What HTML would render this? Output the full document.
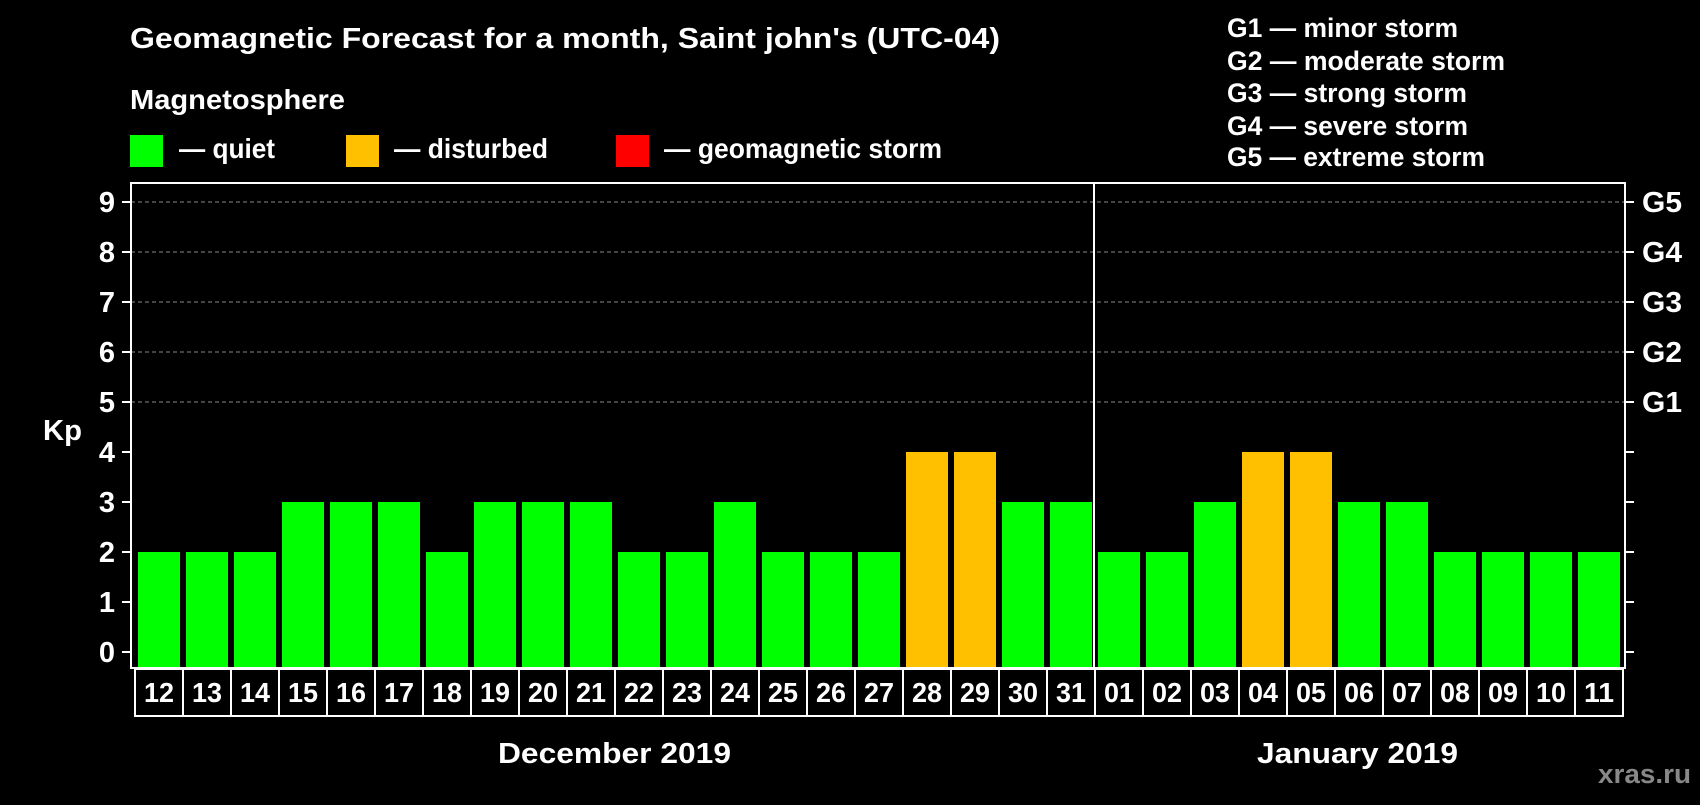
<!DOCTYPE html>
<html><head><meta charset="utf-8"><style>
body{margin:0;background:#000;width:1700px;height:800px;overflow:hidden}
svg text{font-family:"Liberation Sans",sans-serif;font-weight:bold;fill:#fff}
</style></head><body>
<svg id="chart" width="1700" height="800" xmlns="http://www.w3.org/2000/svg">
<text x="130" y="48" font-size="29" textLength="870" lengthAdjust="spacingAndGlyphs">Geomagnetic Forecast for a month, Saint john's (UTC-04)</text>
<text x="130" y="109" font-size="28" textLength="215" lengthAdjust="spacingAndGlyphs">Magnetosphere</text>
<rect x="130" y="135" width="33" height="32" fill="#00ff00"/>
<text x="179" y="158" font-size="28" textLength="96" lengthAdjust="spacingAndGlyphs">— quiet</text>
<rect x="346" y="135" width="33" height="32" fill="#ffc000"/>
<text x="394" y="158" font-size="28" textLength="154" lengthAdjust="spacingAndGlyphs">— disturbed</text>
<rect x="616" y="135" width="33" height="32" fill="#ff0000"/>
<text x="664" y="158" font-size="28" textLength="278" lengthAdjust="spacingAndGlyphs">— geomagnetic storm</text>
<g font-size="27">
<text x="1227" y="37" textLength="231" lengthAdjust="spacingAndGlyphs">G1 — minor storm</text>
<text x="1227" y="70" textLength="278" lengthAdjust="spacingAndGlyphs">G2 — moderate storm</text>
<text x="1227" y="102" textLength="240" lengthAdjust="spacingAndGlyphs">G3 — strong storm</text>
<text x="1227" y="135" textLength="241" lengthAdjust="spacingAndGlyphs">G4 — severe storm</text>
<text x="1227" y="166" textLength="258" lengthAdjust="spacingAndGlyphs">G5 — extreme storm</text>
</g>
<text x="43" y="440" font-size="29" textLength="39" lengthAdjust="spacingAndGlyphs">Kp</text>
<g id="grid"></g><g id="bars"></g><g id="axes"></g>
<text x="498" y="763" font-size="29" textLength="233" lengthAdjust="spacingAndGlyphs">December 2019</text>
<text x="1257" y="763" font-size="29" textLength="201" lengthAdjust="spacingAndGlyphs">January 2019</text>
<text x="1598" y="783" font-size="27" textLength="93" lengthAdjust="spacingAndGlyphs" style="fill:#888">xras.ru</text>
</svg>
<script>
const days=["12","13","14","15","16","17","18","19","20","21","22","23","24","25","26","27","28","29","30","31","01","02","03","04","05","06","07","08","09","10","11"];
const kp=[2,2,2,3,3,3,2,3,3,3,2,2,3,2,2,2,4,4,3,3,2,2,3,4,4,3,3,2,2,2,2];
const yTicks=["0","1","2","3","4","5","6","7","8","9"];
const gLabels=["G1","G2","G3","G4","G5"];
const NS="http://www.w3.org/2000/svg";
const L=131,R=1625,T=183,B=668,X0=135,STEP=48;
const y=v=>652-v*50;
const x=i=>X0+i*STEP;
function mk(t,a,p){const e=document.createElementNS(NS,t);for(const k in a)e.setAttribute(k,a[k]);p.appendChild(e);return e;}
const grid=document.getElementById('grid'),bars=document.getElementById('bars'),axes=document.getElementById('axes');
for(let v=5;v<=9;v++){const l=mk('line',{x1:L,x2:R,y1:y(v),y2:y(v),stroke:'#888','stroke-dasharray':'4,3','stroke-width':1},grid);

}
kp.forEach((v,i)=>{const c=v>=5?'#ff0000':(v>=4?'#ffc000':'#00ff00');
const r=mk('rect',{x:x(i)+3,y:y(v),width:42,height:B-y(v),fill:c},bars);

});
const fr=mk('rect',{x:L,y:T,width:R-L,height:B-T,fill:'none',stroke:'#fff','stroke-width':2},axes);


const sep=mk('line',{x1:x(20)-1,x2:x(20)-1,y1:T,y2:B,stroke:'#fff','stroke-width':2},axes);


yTicks.forEach((t,i)=>{const v=+t;
mk('line',{x1:L-9,x2:L,y1:y(v),y2:y(v),stroke:'#fff','stroke-width':2},axes);
mk('line',{x1:R,x2:R+9,y1:y(v),y2:y(v),stroke:'#fff','stroke-width':2},axes);
const tx=mk('text',{x:115,y:y(v)+10,'font-size':29,'text-anchor':'end'},axes);tx.textContent=t;

});
gLabels.forEach((g,i)=>{const tx=mk('text',{x:1642,y:y(5+i)+10,'font-size':29,textLength:40,lengthAdjust:'spacingAndGlyphs'},axes);tx.textContent=g;

});
days.forEach((d,i)=>{const r=mk('rect',{x:x(i),y:669,width:STEP,height:47,fill:'none',stroke:'#fff','stroke-width':2},axes);


const tx=mk('text',{x:x(i)+9,y:702,'font-size':28,textLength:30,lengthAdjust:'spacingAndGlyphs'},axes);tx.textContent=d;

});
</script>
</body></html>
